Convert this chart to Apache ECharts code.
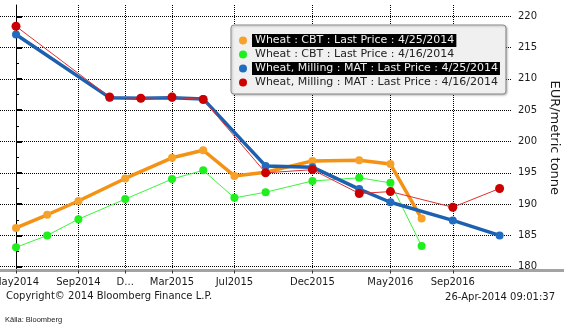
<!DOCTYPE html>
<html>
<head>
<meta charset="utf-8">
<script src="https://cdn.jsdelivr.net/npm/echarts@6/dist/echarts.min.js"></script>
<style>
html,body{margin:0;padding:0;background:#fff;}
#chart{width:564px;height:332px;}
</style>
</head>
<body>
<div id="chart"></div>
<script>
// ---- data ----
const tickMonths = ['2014-05','2014-09','2014-12','2015-03','2015-07','2015-12','2016-05','2016-09'];
const tickLabels = ['May2014','Sep2014','D...','Mar2015','Jul2015','Dec2015','May2016','Sep2016'];
const yTicks = [180,185,190,195,200,205,210,215,220];
const yMinorTicks = [182.5,187.5,192.5,197.5,202.5,207.5,212.5,217.5];

const cbtMonths = ['2014-05','2014-07','2014-09','2014-12','2015-03','2015-05','2015-07','2015-09','2015-12','2016-03','2016-05','2016-07'];
const cbt0425 = [186.2,188.3,190.5,194.1,197.4,198.6,194.5,195.1,196.9,197.0,196.4,187.7];
const cbt0416 = [183.1,185.0,187.6,190.8,194.0,195.4,191.0,191.9,193.7,194.2,193.4,183.3];

const matMonths = ['2014-05','2014-11','2015-01','2015-03','2015-05','2015-09','2015-12','2016-03','2016-05','2016-09','2016-12'];
const mat0425 = [217.1,207.0,206.9,207.0,206.8,196.1,195.9,192.4,190.3,187.4,185.0];
const mat0416 = [218.4,207.1,206.9,207.1,206.7,195.0,195.5,191.7,192.0,189.5,192.5];

const seriesNames = [
  'Wheat : CBT : Last Price : 4/25/2014',
  'Wheat : CBT : Last Price : 4/16/2014',
  'Wheat, Milling : MAT : Last Price : 4/25/2014',
  'Wheat, Milling : MAT : Last Price : 4/16/2014'
];
const highlighted = [seriesNames[0], seriesNames[2]];

// month string -> month index (0 = May 2014)
function mi(s){ const p = s.split('-').map(Number); return (p[0]-2014)*12 + (p[1]-5); }
function pairs(months, vals){ return months.map((m,i)=>[mi(m), vals[i]]); }

const FONT = 'DejaVu Sans';
const GRID_W = 511;
const Y_MIN = 179.4, Y_MAX = 221.8, X_MIN = -1.026, X_MAX = 31.73;
const chart = echarts.init(document.getElementById('chart'), null, {renderer:'canvas'});

const gridBox = {left:0, right:564-GRID_W, top:5, bottom:61.5, containLabel:false, outerBoundsMode:'none'};

const option = {
  backgroundColor:'#ffffff',
  animation:false,
  grid:[Object.assign({}, gridBox), Object.assign({}, gridBox)],
  xAxis:[{
    gridIndex:0, type:'value', min:X_MIN, max:X_MAX,
    axisLine:{show:true, lineStyle:{color:'#a3a3a3', width:3}},
    axisTick:{show:true, customValues:tickMonths.map(mi), length:3, lineStyle:{color:'#333'}},
    axisLabel:{customValues:tickMonths.map(mi), margin:7, color:'#1a1a1a', fontFamily:FONT, fontSize:10,
      formatter:function(v){ const i = tickMonths.map(mi).indexOf(Math.round(v)); return i>=0 ? tickLabels[i] : ''; }},
    splitLine:{show:true, lineStyle:{color:'#000', type:[1,1], width:1}}
  },{
    gridIndex:1, type:'value', min:X_MIN, max:X_MAX, show:false
  }],
  yAxis:[{
    gridIndex:0, type:'value', position:'right', min:Y_MIN, max:Y_MAX,
    name:'EUR/metric tonne', nameLocation:'middle', nameRotate:-90, nameGap:34,
    nameTextStyle:{fontFamily:FONT, fontSize:13, color:'#1a1a1a'},
    axisLine:{show:true, lineStyle:{color:'#000', width:1}},
    axisTick:{show:true, customValues:yTicks, length:6, lineStyle:{color:'#000', width:2}},
    axisLabel:{customValues:yTicks, margin:7, color:'#1a1a1a', fontFamily:FONT, fontSize:10},
    splitLine:{show:true, lineStyle:{color:'#000', type:[1,1], width:1}}
  },{
    gridIndex:1, type:'value', position:'right', min:Y_MIN, max:Y_MAX,
    axisLine:{show:false},
    axisTick:{show:true, customValues:yMinorTicks, length:3, lineStyle:{color:'#000', width:1}},
    axisLabel:{show:false},
    splitLine:{show:false}
  }],
  legend:{
    orient:'vertical', left:231, top:25,
    backgroundColor:'#f0f0f0', borderColor:'#8c8c8c', borderWidth:1, borderRadius:3,
    shadowColor:'rgba(0,0,0,0.25)', shadowBlur:2, shadowOffsetX:1, shadowOffsetY:1,
    padding:[9,6,5,8],
    itemWidth:8, itemHeight:8, itemGap:1, icon:'circle',
    data:seriesNames,
    textStyle:{fontFamily:FONT, fontSize:11, color:'#222',
      rich:{
        hl:{backgroundColor:'#000', color:'#f0f0f0', fontFamily:FONT, fontSize:11, lineHeight:13, padding:[1,2,1,3]},
        nm:{color:'#222', fontFamily:FONT, fontSize:11, lineHeight:13, padding:[1,2,1,3]}
      }},
    formatter:function(n){ return highlighted.indexOf(n)>=0 ? '{hl|'+n+'}' : '{nm|'+n+'}'; }
  },
  series:[
    {name:seriesNames[0], type:'line', data:pairs(cbtMonths,cbt0425), symbol:'circle', symbolSize:8,
      lineStyle:{color:'#f39214', width:3.5}, itemStyle:{color:'#f6a12a'}, z:2},
    {name:seriesNames[1], type:'line', data:pairs(cbtMonths,cbt0416), symbol:'circle', symbolSize:8,
      lineStyle:{color:'#3df53d', width:1}, itemStyle:{color:'#1ef01e'}, z:3},
    {name:seriesNames[2], type:'line', data:pairs(matMonths,mat0425), symbol:'circle', symbolSize:8,
      lineStyle:{color:'#1c60b0', width:3.5}, itemStyle:{color:'#1f6cc0'}, z:4},
    {name:seriesNames[3], type:'line', data:pairs(matMonths,mat0416), symbol:'circle', symbolSize:9,
      lineStyle:{color:'#e23030', width:1}, itemStyle:{color:'#cc0000'}, z:5}
  ],
  graphic:[
    {type:'rect', shape:{x:GRID_W, y:269, width:564-GRID_W, height:3}, style:{fill:'#a3a3a3'}, z:0},
    {type:'text', left:6, top:291, style:{text:'Copyright\u00a9 2014 Bloomberg Finance L.P.', font:'10px "DejaVu Sans"', fill:'#1a1a1a'}},
    {type:'text', right:9, top:292, style:{text:'26-Apr-2014 09:01:37', font:'10px "DejaVu Sans"', fill:'#1a1a1a'}},
    {type:'text', left:5, top:316, style:{text:'Källa: Bloomberg', font:'7.5px "Liberation Sans"', fill:'#222'}}
  ]
};
chart.setOption(option);
</script>
</body>
</html>
